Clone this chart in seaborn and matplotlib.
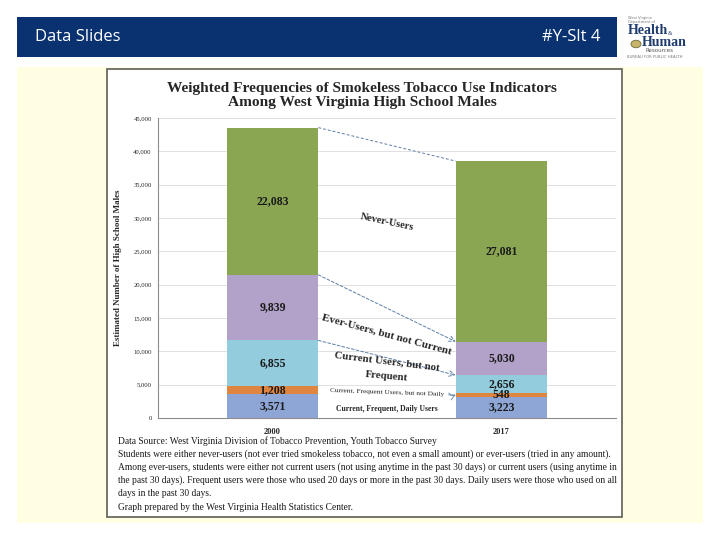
import matplotlib
matplotlib.use("Agg")
import matplotlib.pyplot as plt
from matplotlib.patches import Rectangle, Circle
from matplotlib.ticker import FuncFormatter, MultipleLocator, FixedLocator
import numpy as np
import seaborn as sns

# data
years = ["2000", "2017"]
daily = [3571, 3223]
freq_not_daily = [1208, 548]
current_not_freq = [6855, 2656]
ever_not_current = [9839, 5030]
never = [22083, 27081]

segments = [daily, freq_not_daily, current_not_freq, ever_not_current, never]
seg_colors = ["#8EA6D6", "#E0853F", "#93CDDD", "#B2A1C8", "#8AA653"]

note_lines = [
    "Data Source: West Virginia Division of Tobacco Prevention, Youth Tobacco Survey",
    "Students were either never-users (not ever tried smokeless tobacco, not even a small amount) or ever-users (tried in any amount).",
    "Among ever-users, students were either not current users (not using anytime in the past 30 days) or current users (using anytime in",
    "the past 30 days). Frequent users were those who used 20 days or more in the past 30 days. Daily users were those who used on all",
    "days in the past 30 days.",
    "Graph prepared by the West Virginia Health Statistics Center.",
]

sns.set_style("white")
plt.rcParams["font.family"] = ["Liberation Serif", "DejaVu Serif"]

W, H = 720, 540
fig = plt.figure(figsize=(7.2, 5.4), dpi=100)
fig.patch.set_facecolor("white")


def fx(x):
    return x / W


def fy(y):
    return 1 - y / H


def box(x0, y0, x1, y1, **kw):
    fig.patches.append(Rectangle((fx(x0), fy(y1)), fx(x1) - fx(x0), fy(y0) - fy(y1),
                                 transform=fig.transFigure, zorder=-5, **kw))


# slide background pieces
box(17, 17, 617, 57, facecolor="#0A3270", edgecolor="none")
box(17, 67, 703, 523, facecolor="#FFFDE2", edgecolor="none")
box(107, 69, 622, 517, facecolor="white", edgecolor="#5E5E55", lw=1.2)

fig.text(fx(35), fy(37), "Data Slides", color="white", fontsize=12,
         family=["Open Sans", "DejaVu Sans"], va="center", ha="left")
fig.text(fx(600), fy(37), "#Y-Slt 4", color="white", fontsize=12,
         family=["Open Sans", "DejaVu Sans"], va="center", ha="right")

# logo
fig.text(fx(628), fy(20), "West Virginia\nDepartment of", fontsize=2.6, color="#777777",
         family=["DejaVu Sans"], va="center", ha="left", linespacing=0.9)
fig.text(fx(628), fy(30.5), "Health", fontsize=10, color="#1F3B6E", weight="bold",
         va="center", ha="left")
fig.text(fx(668), fy(33.5), "&", fontsize=4, color="#1F3B6E", va="center", ha="left")
fig.text(fx(642), fy(43), "Human", fontsize=10, color="#1F3B6E", weight="bold",
         va="center", ha="left")
fig.text(fx(645), fy(51), "Resources", fontsize=4, color="#555555",
         family=["DejaVu Sans"], va="center", ha="left")
fig.text(fx(627), fy(56.5), "BUREAU FOR PUBLIC HEALTH", fontsize=2.7, color="#777777",
         family=["DejaVu Sans"], va="center", ha="left")
fig.patches.append(Circle((fx(636), fy(44)), 5 / W, transform=fig.transFigure,
                          facecolor="#C9B26A", edgecolor="#6B6B3A", lw=0.6))

# chart title
fig.text(fx(362), fy(95.5), "Weighted Frequencies of Smokeless Tobacco Use Indicators\n"
         "Among West Virginia High School Males", fontsize=11.1, weight="bold",
         ha="center", va="center", linespacing=1.15)

ax = fig.add_axes([fx(158), fy(418), fx(616) - fx(158), (418 - 118) / H])
ax.set_facecolor("white")

cum = np.cumsum(np.array(segments), axis=0)
for i in range(len(segments) - 1, -1, -1):
    sns.barplot(x=years, y=cum[i], color=seg_colors[i], saturation=1, width=0.4,
                edgecolor="none", ax=ax, zorder=2)

ax.set_xlim(-0.5, 1.5)
ax.set_ylim(0, 45000)
ax.yaxis.set_major_locator(MultipleLocator(5000))
ax.yaxis.set_major_formatter(FuncFormatter(lambda v, p: f"{int(v):,}"))
ax.yaxis.grid(True, color="#DADADA", lw=0.6, zorder=0)
ax.set_axisbelow(True)
ax.set_xlabel("")
ax.set_ylabel("Estimated Number of High School Males", fontsize=6.5, weight="bold",
              labelpad=8)
for s in ["top", "right"]:
    ax.spines[s].set_visible(False)
for s in ["left", "bottom"]:
    ax.spines[s].set_color("#8C8C8C")
    ax.spines[s].set_linewidth(0.8)
ax.tick_params(axis="y", labelsize=4.8, length=2.5, width=0.6, color="#8C8C8C", pad=2)
ax.tick_params(axis="x", labelsize=6, length=0, pad=7)
ax.xaxis.set_minor_locator(FixedLocator([-0.5, 0.5, 1.5]))
ax.tick_params(axis="x", which="minor", length=3, width=0.6, color="#8C8C8C")
for lab in ax.get_xticklabels():
    lab.set_fontweight("bold")

# value labels inside segments
for j in range(len(years)):
    prev = 0
    for i, seg in enumerate(segments):
        v = seg[j]
        ax.text(j, prev + v / 2, f"{v:,}", ha="center", va="center", fontsize=8.5,
                weight="bold", color="#1A1A1A", zorder=5)
        prev += v

# dashed connectors between bars
line_col = "#5D7FA6"
half = 0.2
ax.plot([half, 1 - half], [cum[4][0], cum[4][1]], ls=(0, (3, 2)), lw=0.7,
        color=line_col, zorder=3)
for k in [3, 2]:
    ax.annotate("", xy=(1 - half, cum[k][1]), xytext=(half, cum[k][0]),
                arrowprops=dict(arrowstyle="->", ls=(0, (3, 2)), lw=0.7,
                                color=line_col, shrinkA=0, shrinkB=0), zorder=3)
ax.annotate("", xy=(1 - half, cum[1][1] - freq_not_daily[1] / 2), xytext=(0.77, 3750),
            arrowprops=dict(arrowstyle="->", lw=0.6, color=line_col,
                            shrinkA=0, shrinkB=0,
                            connectionstyle="arc3,rad=0.4"), zorder=3)

# group labels between bars
ax.text(0.5, 29400, "Never-Users", rotation=-12, ha="center", va="center",
        fontsize=7.5, weight="bold", zorder=4)
ax.text(0.5, 12500, "Ever-Users, but not Current", rotation=-15, ha="center",
        va="center", fontsize=8, weight="bold", zorder=4)
ax.text(0.5, 8500, "Current Users, but not", rotation=-7, ha="center",
        va="center", fontsize=7.8, weight="bold", zorder=4)
ax.text(0.5, 6200, "Frequent", rotation=-5, ha="center",
        va="center", fontsize=7.8, weight="bold", zorder=4)
ax.text(0.5, 3800, "Current, Frequent Users, but not Daily", rotation=-2, ha="center",
        va="center", fontsize=5.3, zorder=4)
ax.text(0.5, 1350, "Current, Frequent, Daily Users", ha="center", va="center",
        fontsize=5.5, weight="bold", zorder=4)

# notes under the chart, one text per line
for n, line in enumerate(note_lines):
    fig.text(fx(118), fy(441 + 13.2 * n), line, fontsize=6.85, ha="left", va="center",
             color="#1A1A1A")

fig.savefig("out.png", dpi=100)
